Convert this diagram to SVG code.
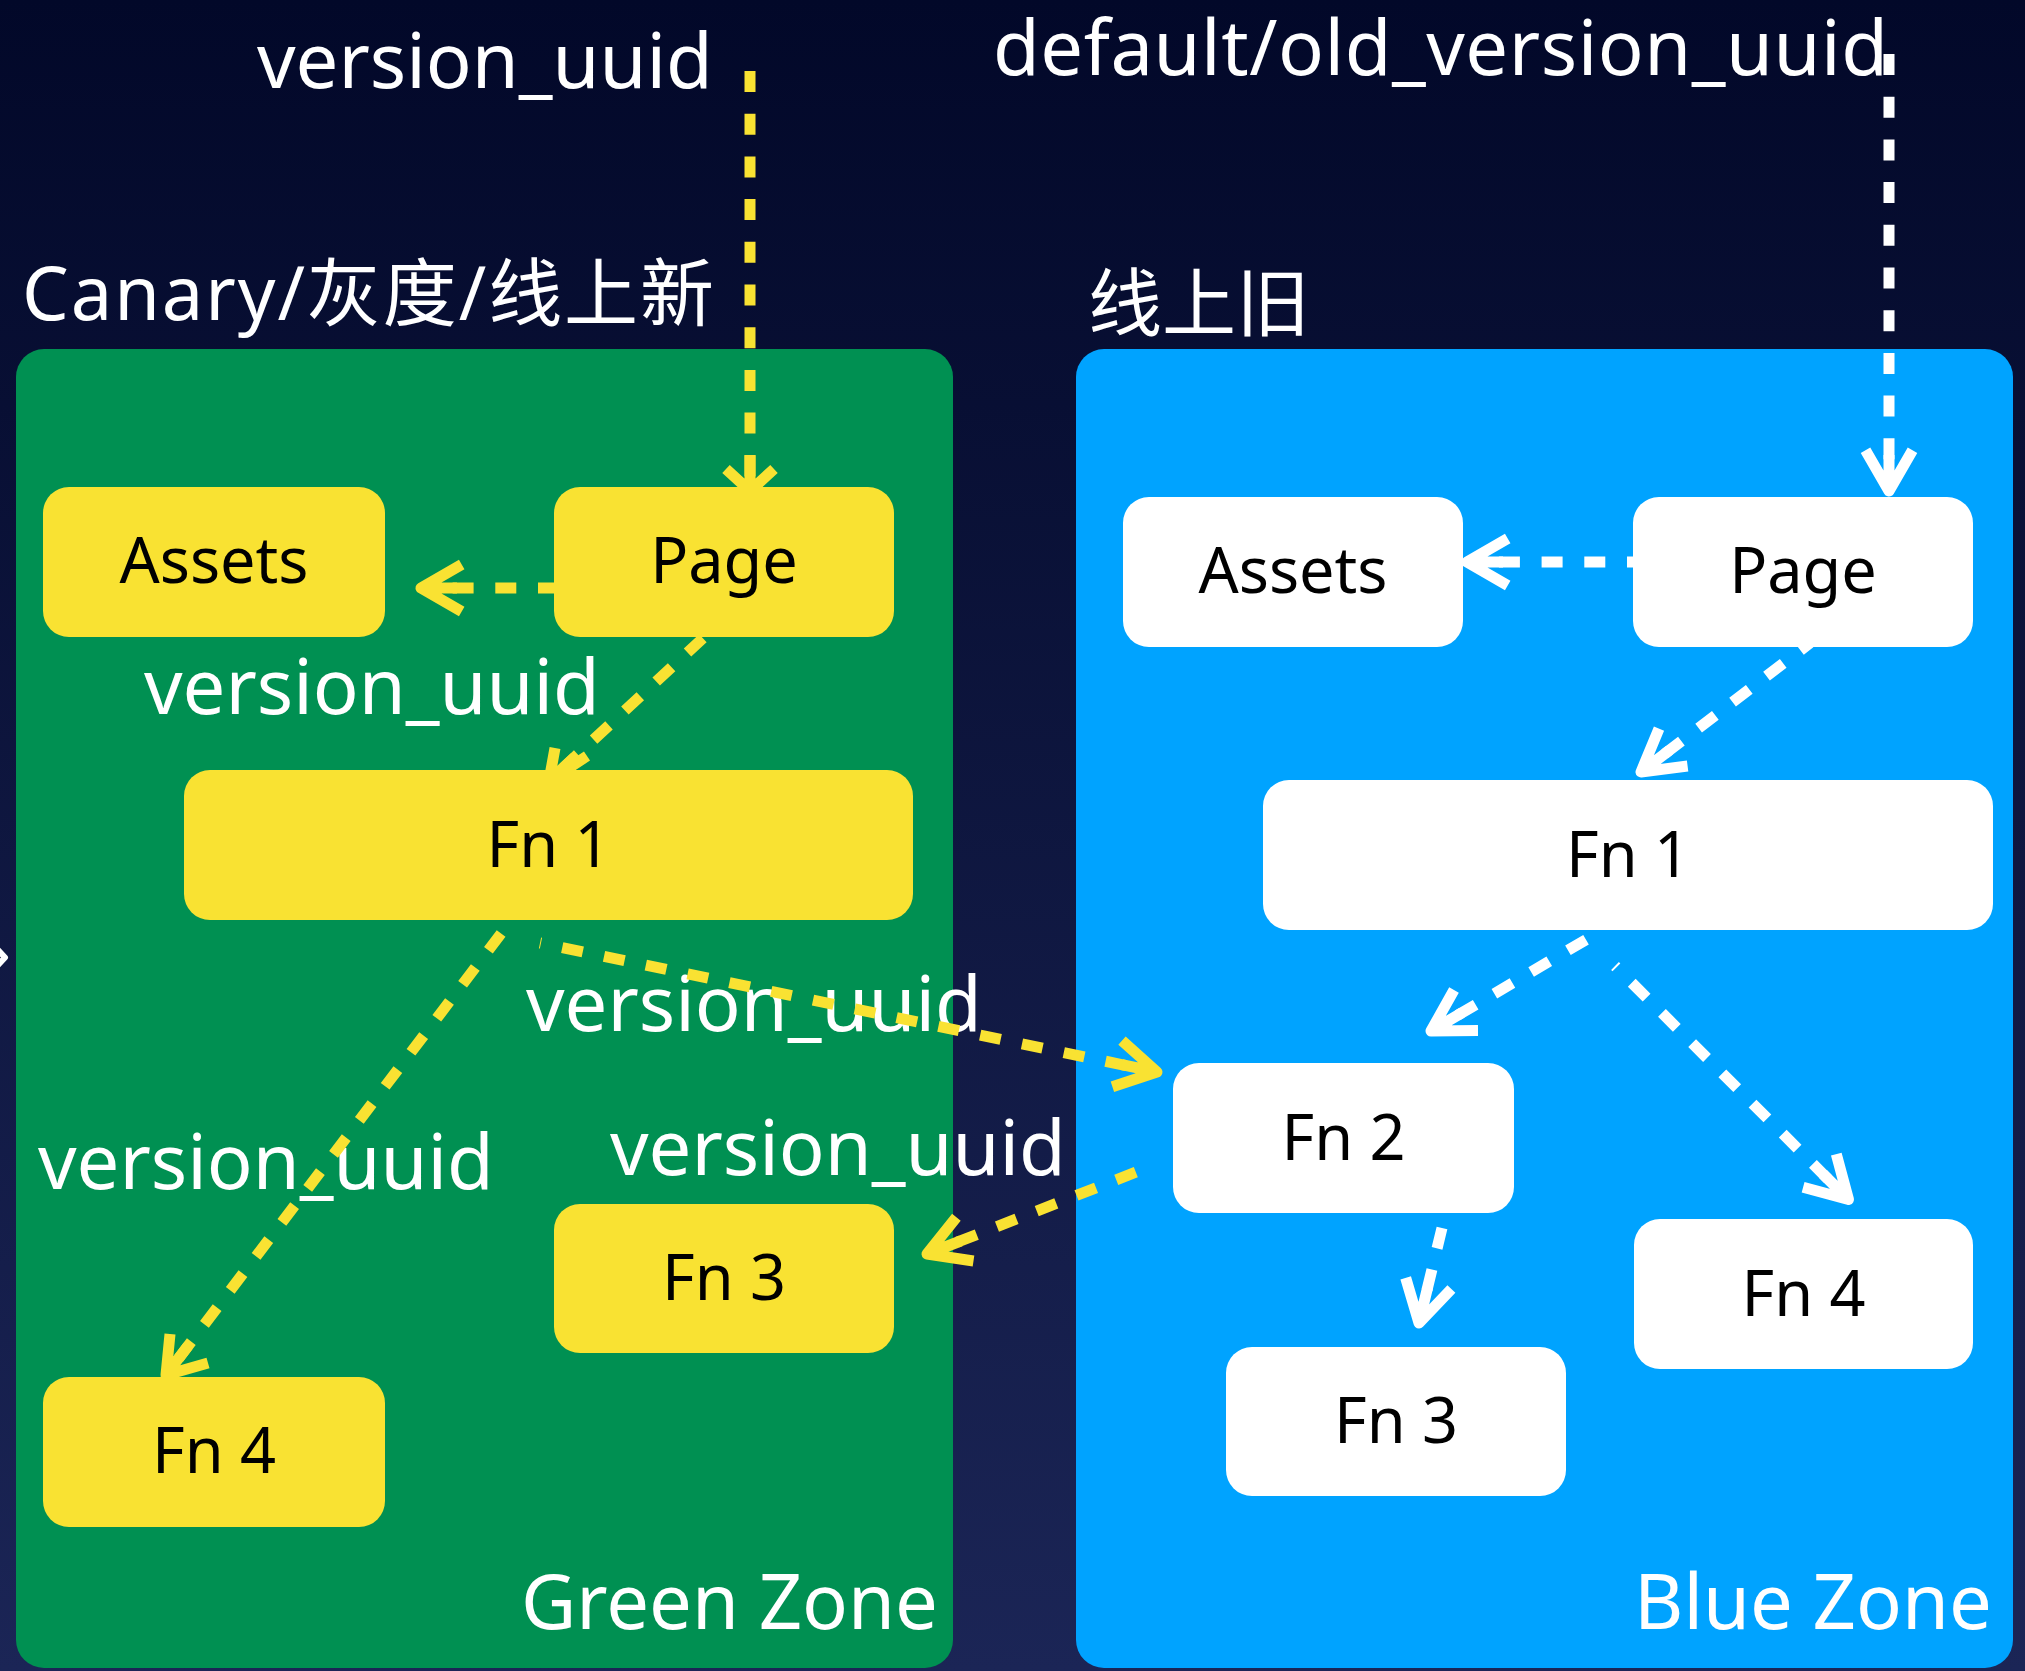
<svg xmlns="http://www.w3.org/2000/svg" width="2025" height="1671" viewBox="0 0 2025 1671">
<defs>
<linearGradient id="bg" x1="0" y1="0" x2="0" y2="1">
<stop offset="0" stop-color="#020829"/>
<stop offset="1" stop-color="#1b2556"/>
</linearGradient>
<style>
.zg{fill:#009052}
.zb{fill:#00a3ff}
.ny{fill:#f9e232}
.nw{fill:#ffffff}
.nt{font-family:"Noto Sans","Noto Sans CJK SC",sans-serif;font-size:63px;fill:#000;text-anchor:middle}
.lb{font-family:"Noto Sans","Noto Sans CJK SC",sans-serif;font-size:76px;fill:#fff}
.dy{fill:none;stroke:#f9e232;stroke-width:11;stroke-dasharray:21 21.7}
.dw{fill:none;stroke:#fff;stroke-width:11;stroke-dasharray:21 21.7}
.ay{fill:none;stroke:#f9e232;stroke-width:11;stroke-linejoin:round}
.aw{fill:none;stroke:#fff;stroke-width:11;stroke-linejoin:round}
</style>
</defs>
<rect x="0" y="0" width="2025" height="1671" fill="url(#bg)"/>
<g id="green-zone"><rect class="zg" x="16" y="349" width="937" height="1319" rx="28"/></g>
<g id="blue-zone"><rect class="zb" x="1076" y="349" width="937" height="1319" rx="28"/></g>
<g id="labels">
<text class="lb" x="257" y="88">version_uuid</text>
<text class="lb" x="993" y="75" textLength="895" lengthAdjust="spacing">default/old_version_uuid</text>
<text class="lb" x="22" y="320" style="font-size:74px" textLength="692" lengthAdjust="spacing">Canary/灰度/线上新</text>
<text class="lb" x="1088" y="330" style="font-size:74px">线上旧</text>
<text class="lb" x="144" y="714">version_uuid</text>
<text class="lb" x="526" y="1031">version_uuid</text>
<text class="lb" x="38" y="1189">version_uuid</text>
<text class="lb" x="610" y="1175">version_uuid</text>
<text class="lb" x="521" y="1629">Green Zone</text>
<text class="lb" x="1634" y="1629">Blue Zone</text>
</g>
<g id="connectors">
<path class="dy" d="M750,71 V491"/>
<path class="ay" d="M726,469 L750,491 L774,469 M750,491 V455"/>
<path class="dy" style="stroke-dashoffset:5" d="M554,588 H421"/>
<path class="ay" d="M461.7,564.5 L421,588 L461.7,611.5 M421,588 H457"/>
<path class="dy" style="stroke-dashoffset:26.2" d="M715,627 L549,781"/>
<path class="ay" d="M555,748 L549,781 L587,756 M549,781 L575,757"/>
<path class="dy" style="stroke-dashoffset:32" d="M507.6,925 L166,1375"/>
<path class="ay" d="M170,1334 L166,1375 L208,1363 M166,1375 L188,1346"/>
<path class="dy" style="stroke-dashoffset:20" d="M540,943 L1157,1072"/>
<path class="ay" d="M1122,1040.7 L1157,1072 L1112.4,1086.7 M1157,1072 L1121.8,1064.6"/>
<path class="dy" style="stroke-dashoffset:38.2" d="M1140,1170.6 L927,1254"/>
<path class="ay" d="M956.4,1217.3 L927,1254 L973.5,1261 M927,1254 L960.6,1241"/>
<path class="dw" d="M1889,54 V491"/>
<path class="aw" d="M1865.5,450.3 L1889,491 L1912.5,450.3 M1889,491 V455"/>
<path class="dw" style="stroke-dashoffset:15" d="M1633,562 H1467"/>
<path class="aw" d="M1507.7,538.5 L1467,562 L1507.7,585.5 M1467,562 H1503"/>
<path class="dw" style="stroke-dashoffset:9" d="M1810,643 L1641,772"/>
<path class="aw" d="M1687.6,766 L1641,772 L1659,728.6 M1641,772 L1669.6,750.2"/>
<path class="dw" style="stroke-dashoffset:23.7" d="M1602.4,930 L1431,1031"/>
<path class="aw" d="M1478,1030.6 L1431,1031 L1454,990 M1431,1031 L1462,1012.7"/>
<path class="dw" style="stroke-dashoffset:19" d="M1615,966 L1848.5,1199.5"/>
<path class="aw" d="M1836.3,1154.1 L1848.5,1199.5 L1803.1,1187.3 M1848.5,1199.5 L1823,1174"/>
<path class="dw" d="M1442,1228 L1419,1323"/>
<path class="aw" d="M1451.4,1289 L1419,1323 L1405.7,1277.9 M1419,1323 L1427.5,1288"/>
<path class="aw" d="M-3,949 L5,957.5 L-3,966" style="stroke-width:6"/>
</g>
<g id="g-assets"><rect class="ny" x="43" y="487" width="342" height="150" rx="26"/><text class="nt" x="214" y="583">Assets</text></g>
<g id="g-page"><rect class="ny" x="554" y="487" width="340" height="150" rx="26"/><text class="nt" x="724" y="583">Page</text></g>
<g id="g-fn1"><rect class="ny" x="184" y="770" width="729" height="150" rx="26"/><text class="nt" x="548.5" y="867">Fn 1</text></g>
<g id="g-fn3"><rect class="ny" x="554" y="1204" width="340" height="149" rx="26"/><text class="nt" x="724" y="1300">Fn 3</text></g>
<g id="g-fn4"><rect class="ny" x="43" y="1377" width="342" height="150" rx="26"/><text class="nt" x="214" y="1473">Fn 4</text></g>
<g id="b-assets"><rect class="nw" x="1123" y="497" width="340" height="150" rx="26"/><text class="nt" x="1293" y="593">Assets</text></g>
<g id="b-page"><rect class="nw" x="1633" y="497" width="340" height="150" rx="26"/><text class="nt" x="1803" y="593">Page</text></g>
<g id="b-fn1"><rect class="nw" x="1263" y="780" width="730" height="150" rx="26"/><text class="nt" x="1628" y="877">Fn 1</text></g>
<g id="b-fn2"><rect class="nw" x="1173" y="1063" width="341" height="150" rx="26"/><text class="nt" x="1343.5" y="1160">Fn 2</text></g>
<g id="b-fn3"><rect class="nw" x="1226" y="1347" width="340" height="149" rx="26"/><text class="nt" x="1396" y="1443">Fn 3</text></g>
<g id="b-fn4"><rect class="nw" x="1634" y="1219" width="339" height="150" rx="26"/><text class="nt" x="1803.5" y="1316">Fn 4</text></g>
</svg>
